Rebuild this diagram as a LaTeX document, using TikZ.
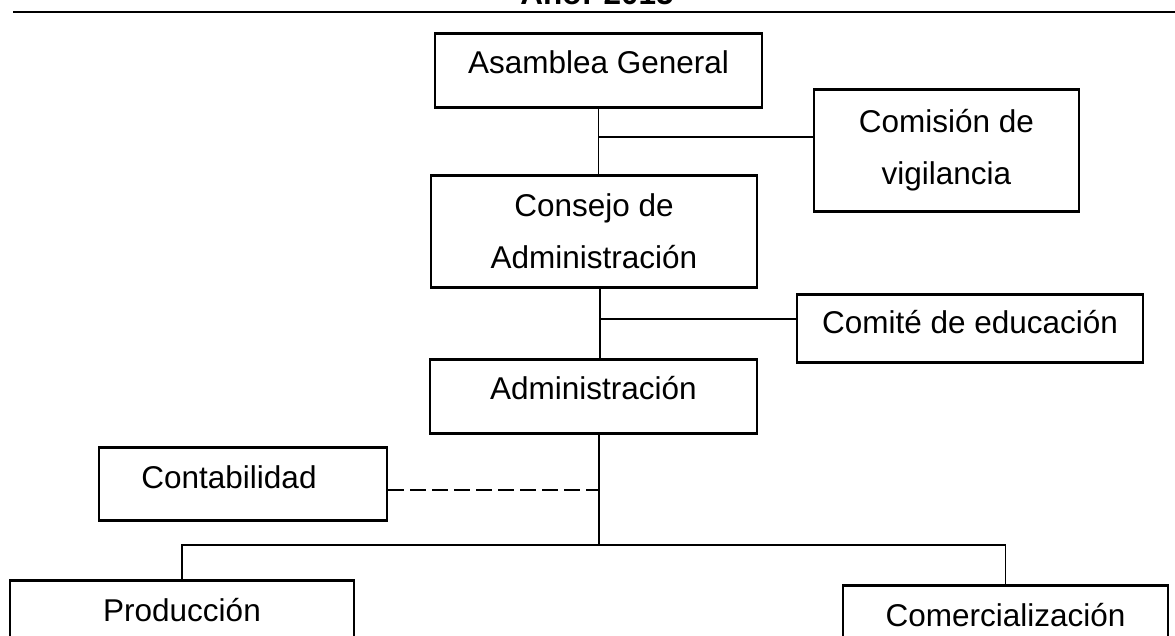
\documentclass[tikz,border=0pt]{standalone}
\usepackage{fontspec}
\setmainfont{Liberation Sans}

\begin{document}
\begin{tikzpicture}[x=1pt,y=-1pt]
				\tikzstyle{caja}=[draw,rectangle,line width=2.6pt,inner sep=0pt,anchor=north,font=\fontsize{31.5}{52}\selectfont]
				\tikzstyle{linea}=[line width=1.9pt]
				\tikzstyle{titulo}=[anchor=base,inner sep=0pt,font=\fontsize{31.5}{38}\selectfont\bfseries]
				\useasboundingbox (0,0) rectangle (1175,635);
				\node[titulo] (anio) at (597,4) {Año: 2015};
				\draw[line width=2.2pt] (13,12) -- (1175,12);
				\node[caja,minimum width=327pt,text height=40pt,text depth=34pt] (asamblea) at (598.5,32) {Asamblea General};
				\node[caja,minimum width=265pt,minimum height=122pt,align=center] (comision) at (946.5,88) {Comisión de\\vigilancia};
				\node[caja,minimum width=326pt,minimum height=112pt,align=center] (consejo) at (594,174) {Consejo de\\Administración};
				\node[caja,minimum width=346pt,text height=39pt,text depth=29pt] (comite) at (970,293) {Comité de educación};
				\node[caja,minimum width=327pt,text height=40pt,text depth=34pt] (admin) at (593.5,358) {Administración};
				\node[caja,minimum width=288pt,text height=41pt,text depth=32pt] (contab) at (243,446) {Contabilidad\hspace*{28pt}};
				\node[caja,minimum width=344pt,text height=41pt,text depth=40pt] (prod) at (182,579) {Producción};
				\node[caja,minimum width=325pt,text height=41pt,text depth=40pt] (comerc) at (1005.5,584) {Comercialización};
				\coordinate (j1) at (598.5,137);
				\coordinate (j2) at (600,319);
				\coordinate (j3) at (599,490);
				\coordinate (bus) at (599,545);
				\draw[linea] (asamblea.south) -- (asamblea.south |- consejo.north);
				\draw[linea] (j1) -- (j1 -| comision.west);
				\draw[linea] (consejo.south -| j2) -- (admin.north -| j2);
				\draw[linea] (j2) -- (j2 -| comite.west);
				\draw[linea] (admin.south -| bus) -- (bus);
				\draw[linea,dash pattern=on 16pt off 6pt] (contab.east |- j3) -- (j3);
				\draw[linea] (prod.north) |- (bus) -| (comerc.north);
\end{tikzpicture}
\end{document}
